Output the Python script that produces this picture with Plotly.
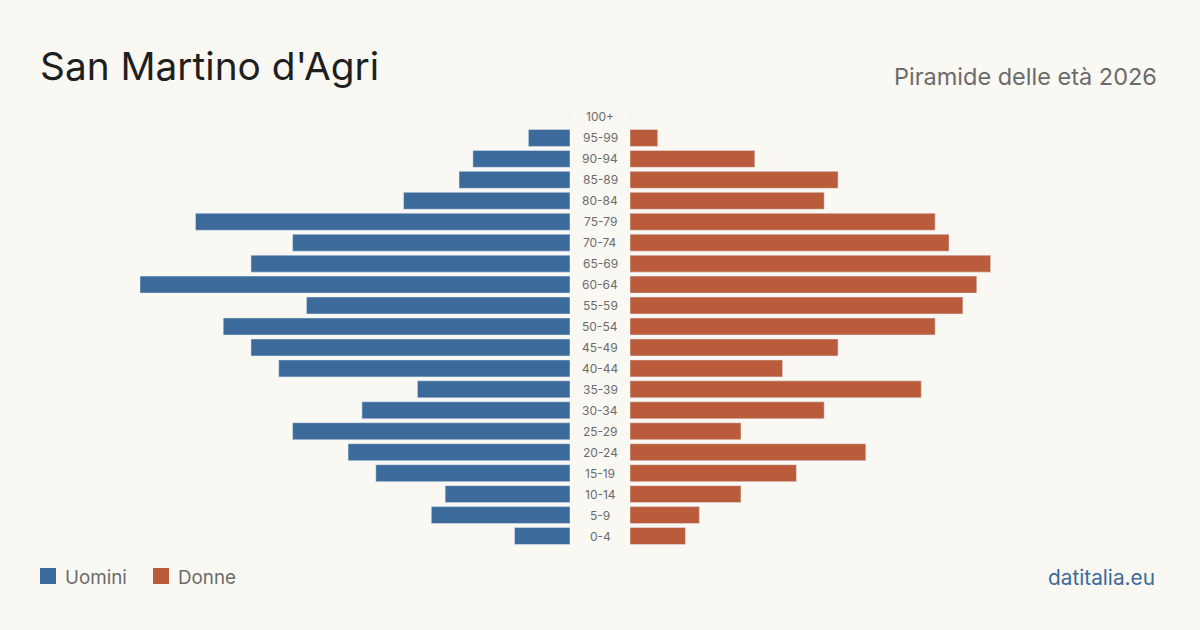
import plotly.graph_objects as go

W, H = 1200, 630

age_groups = ["0-4", "5-9", "10-14", "15-19", "20-24", "25-29", "30-34", "35-39",
              "40-44", "45-49", "50-54", "55-59", "60-64", "65-69", "70-74", "75-79",
              "80-84", "85-89", "90-94", "95-99", "100+"]
uomini = [4, 10, 9, 14, 16, 20, 15, 11, 21, 23, 25, 19, 31, 23, 20, 27, 12, 8, 7, 3, 0]
donne = [4, 5, 8, 12, 17, 8, 14, 21, 11, 15, 22, 24, 25, 26, 23, 22, 14, 15, 9, 2, 0]

BLUE = "#3b6a9b"
ORANGE = "#ba5c3b"
BG = "#faf8f3"
FONT = "Inter"

xmax = max(max(uomini), max(donne))

def px(x):
    return x / W

def py(y):
    return 1 - y / H

fig = go.Figure()
fig.add_trace(go.Bar(y=age_groups, x=uomini, orientation="h", marker_color=BLUE,
                     xaxis="x", yaxis="y", name="Uomini", showlegend=False,
                     hovertemplate="%{y}: %{x}<extra>Uomini</extra>"))
fig.add_trace(go.Bar(y=age_groups, x=donne, orientation="h", marker_color=ORANGE,
                     xaxis="x2", yaxis="y", name="Donne", showlegend=False,
                     hovertemplate="%{y}: %{x}<extra>Donne</extra>"))

y_top, y_bot = 106.5, 546.5

fig.update_layout(
    width=W, height=H,
    margin=dict(l=0, r=0, t=0, b=0),
    paper_bgcolor=BG, plot_bgcolor=BG,
    bargap=0.19,
    font=dict(family=FONT),
    xaxis=dict(domain=[px(140), px(570)], range=[xmax, 0], visible=False, fixedrange=True),
    xaxis2=dict(domain=[px(630), px(1060)], range=[0, xmax], visible=False, fixedrange=True),
    yaxis=dict(domain=[py(y_bot), py(y_top)], categoryorder="array", categoryarray=age_groups,
               range=[-0.5, len(age_groups) - 0.5], visible=False, fixedrange=True),
)

annotations = []
for a in age_groups:
    annotations.append(dict(x=0.5, xref="paper", y=a, yref="y", text=a, showarrow=False,
                            font=dict(size=12, color="#6b6b6b", family=FONT),
                            xanchor="center", yanchor="middle"))

annotations += [
    dict(x=px(38), y=py(66), xref="paper", yref="paper", text="San Martino d'Agri",
         showarrow=False, xanchor="left", yanchor="middle",
         font=dict(size=38.8, color="#1f1f1f", family=FONT)),
    dict(x=px(1159), y=py(76), xref="paper", yref="paper", text="Piramide delle età 2026",
         showarrow=False, xanchor="right", yanchor="middle",
         font=dict(size=23.5, color="#6b6b6b", family=FONT)),
    dict(x=px(1157), y=py(577), xref="paper", yref="paper", text="datitalia.eu",
         showarrow=False, xanchor="right", yanchor="middle",
         font=dict(size=20.8, color="#3b6a9b", family=FONT)),
    dict(x=px(63), y=py(577), xref="paper", yref="paper", text="Uomini",
         showarrow=False, xanchor="left", yanchor="middle",
         font=dict(size=18.8, color="#6b6b6b", family=FONT)),
    dict(x=px(176), y=py(577), xref="paper", yref="paper", text="Donne",
         showarrow=False, xanchor="left", yanchor="middle",
         font=dict(size=18.8, color="#6b6b6b", family=FONT)),
]

shapes = [
    dict(type="rect", xref="paper", yref="paper", x0=px(40), x1=px(56), y0=py(584), y1=py(568),
         fillcolor=BLUE, line=dict(width=0)),
    dict(type="rect", xref="paper", yref="paper", x0=px(153), x1=px(169), y0=py(584), y1=py(568),
         fillcolor=ORANGE, line=dict(width=0)),
]

fig.update_layout(annotations=annotations, shapes=shapes)
fig.write_html("out.html")
